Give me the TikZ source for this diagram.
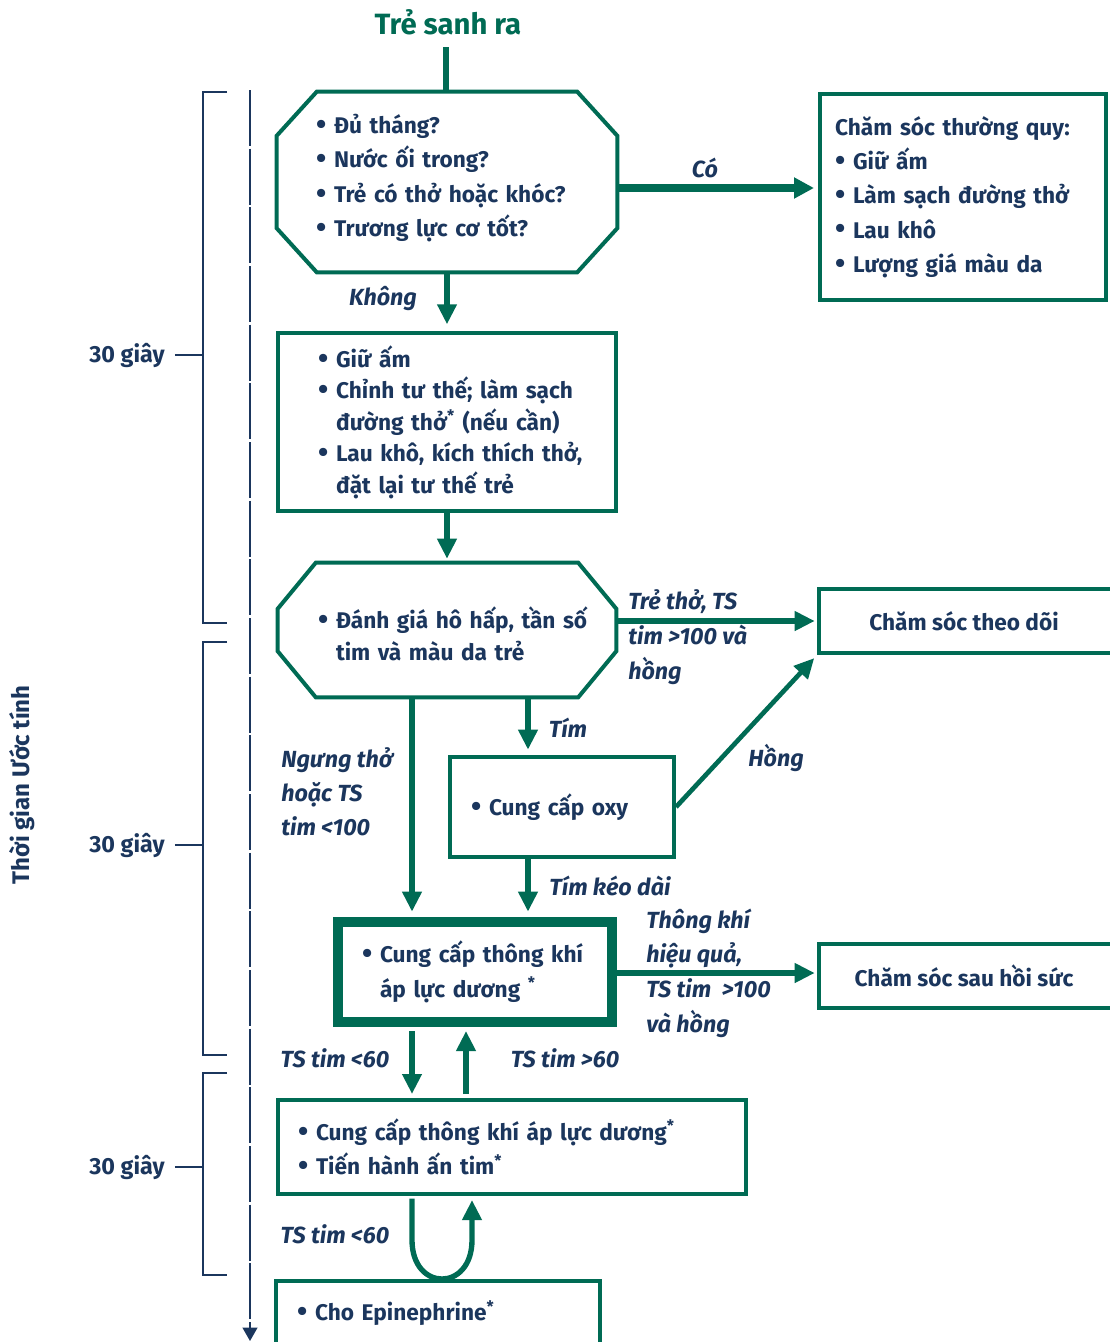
\documentclass[tikz,border=0pt]{standalone}
\usepackage{fontspec}
\setmainfont{Fira Sans}
\usetikzlibrary{arrows.meta,calc}
\definecolor{grn}{HTML}{006B54}
\definecolor{nav}{HTML}{1B365D}
\newlength\pxl
\setlength\pxl{0.75pt}
\newcommand\bul{\makebox[18\pxl][l]{\raisebox{-0.04em}{\scalebox{1.3}{•}}}}
\newcommand\ind{\hspace*{18\pxl}}
\newcommand\astk{\textsuperscript{*}}
\begin{document}
\begin{tikzpicture}[x=0.75pt,y=-0.75pt,
  txt/.style={font=\fontsize{17pt}{25.75pt}\selectfont\bfseries, text=nav},
  lbl/.style={font=\fontsize{17.5pt}{26pt}\selectfont\bfseries\itshape, text=nav, align=left, inner sep=0},
  bx/.style n args={3}{txt, inner sep=0, align=left, minimum width=#1\pxl, minimum height=#2\pxl, text width=#3\pxl},
  frame/.style 2 args={inner sep=0, minimum width=#1\pxl, minimum height=#2\pxl},
  gline/.style={draw=grn, line width=3pt},
  arr/.style={draw=grn, line width=4pt, -{Triangle[length=15pt,width=14pt]}},
  arrb/.style={draw=grn, line width=5.5pt, -{Triangle[length=15pt,width=15pt]}},
  ax/.style={draw=nav, line width=1.5pt},
  sec/.style={font=\fontsize{17.5pt}{20pt}\selectfont\bfseries, text=nav, inner sep=0}
]
\useasboundingbox (0,0) rectangle (1110,1342);

% title
\node[font=\fontsize{22pt}{26pt}\selectfont\bfseries, text=grn, inner sep=0] (title) at (448,22) {Trẻ sanh ra};

% octagon 1
\node[frame={340}{180}] (o1) at (447,182) {};
\draw[gline] ($(o1.north west)+(40,0)$) -- ($(o1.north east)+(-40,0)$) -- ($(o1.north east)+(0,44)$) -- ($(o1.south east)+(0,-44)$) -- ($(o1.south east)+(-40,0)$) -- ($(o1.south west)+(40,0)$) -- ($(o1.south west)+(0,-44)$) -- ($(o1.north west)+(0,44)$) -- cycle;
\node[bx={262}{10}{262}] (o1t) at (447,178) {\bul Đủ tháng?\\\bul Nước ối trong?\\\bul Trẻ có thở hoặc khóc?\\\bul Trương lực cơ tốt?};

% routine care
\node[bx={286}{206}{256}, gline] (b1) at (963,197) {Chăm sóc thường quy:\\\bul Giữ ấm\\\bul Làm sạch đường thở\\\bul Lau khô\\\bul Lượng giá màu da};

% box 2
\node[bx={338}{178}{258}, gline, font=\fontsize{17pt}{23.6pt}\selectfont\bfseries] (b2) at (447,422) {\bul Giữ ấm\\\mbox{\bul Chỉnh tư thế; làm sạch}\\\mbox{\ind đường thở\astk{} (nếu cần)}\\\mbox{\bul Lau khô, kích thích thở,}\\\mbox{\ind đặt lại tư thế trẻ}};

% octagon 2
\node[frame={338}{134}] (o2) at (447,630) {};
\draw[gline] ($(o2.north west)+(38,0)$) -- ($(o2.north east)+(-38,0)$) -- ($(o2.north east)+(0,46)$) -- ($(o2.south east)+(0,-46)$) -- ($(o2.south east)+(-38,0)$) -- ($(o2.south west)+(38,0)$) -- ($(o2.south west)+(0,-46)$) -- ($(o2.north west)+(0,46)$) -- cycle;
\node[bx={258}{10}{258}, font=\fontsize{17pt}{24pt}\selectfont\bfseries] (o2t) at (447,634) {\mbox{\bul Đánh giá hô hấp, tần số}\\\ind tim và màu da trẻ};

% observation care
\node[txt, minimum width=290\pxl, minimum height=64\pxl, inner sep=0] (b3) at (964,621) {Chăm sóc theo dõi};
\draw[gline] (b3.north west) rectangle ([xshift=30pt]b3.south east);

% oxygen
\node[bx={224}{100}{182}, gline] (oxy) at (562,807) {\bul Cung cấp oxy};

% PPV
\node[bx={274}{100}{226}, draw=grn, line width=7.5pt] (ppv) at (475,972) {\bul Cung cấp thông khí\\\ind áp lực dương \astk};

% post-resuscitation care
\node[txt, minimum width=290\pxl, minimum height=64\pxl, inner sep=0] (b4) at (964,976) {Chăm sóc sau hồi sức};
\draw[gline] (b4.north west) rectangle ([xshift=30pt]b4.south east);

% CPR
\node[bx={468}{94}{428}, gline] (cpr) at (512,1147) {\bul Cung cấp thông khí áp lực dương\astk\\\bul Tiến hành ấn tim\astk};

% Epinephrine
\node[bx={324}{64}{282}] (epi) at (438,1313) {\bul Cho Epinephrine\astk};
\draw[gline] (epi.north west) rectangle ([yshift=-30pt]epi.south east);

% connectors
\path (title.south) ++(-2,12) coordinate (t0);
\draw[draw=grn, line width=5pt] (t0) -- (t0 |- o1.north);
\draw[arrb, shorten >=3pt] ([yshift=-4.5pt]o1.east) -- ([yshift=-4.5pt]o1.east -| b1.west);
\draw[arr, shorten >=5pt] (o1.south) -- (o1.south |- b2.north);
\draw[arr, shorten >=3pt] (o1.south |- b2.south) -- (o1.south |- o2.north);
\draw[arr, shorten >=3pt] ([yshift=6.75pt]o2.east) -- ([yshift=6.75pt]o2.east -| b3.west);
\draw[arr, shorten >=4pt] ([xshift=60.75pt]o2.south) -- ([xshift=60.75pt]o2.south |- oxy.north);
\draw[arr, line width=3.5pt, shorten >=5pt] (oxy.east) -- (b3.south west);
\draw[arr, shorten >=4pt] ([xshift=-26.25pt]o2.south) -- ([xshift=-26.25pt]o2.south |- ppv.north);
\draw[arr, shorten >=4pt] ([xshift=60.75pt]o2.south |- oxy.south) -- ([xshift=60.75pt]o2.south |- ppv.north);
\draw[arr, shorten >=3pt] ([yshift=-0.75pt]ppv.east) -- ([yshift=-0.75pt]ppv.east -| b4.west);
\draw[arr, shorten <=3pt, shorten >=3pt] ([xshift=-26.25pt]o2.south |- ppv.south) -- ([xshift=-26.25pt]o2.south |- cpr.north);
\draw[arr, shorten <=3pt, shorten >=3pt] (466,0 |- cpr.north) -- (466,0 |- ppv.south);
\coordinate (lpL) at (412,1240);
\coordinate (lpR) at (472,1240);
\draw[arr, shorten <=2pt, shorten >=3pt] (lpL |- cpr.south) -- (lpL) .. controls (412,1292) and (472,1292) .. (lpR) -- (lpR |- cpr.south);

% connector labels
\node[lbl] (lco) at (705,168) {Có};
\node[lbl] (lkh) at (383,299) {Không};
\node[lbl, anchor=west] (ltt) at (628,637) {Trẻ thở, TS\\tim >100 và\\hồng};
\node[lbl] (ltim) at (568,728) {Tím};
\node[lbl] (lhong) at (776,758) {Hồng};
\node[lbl, anchor=west, font=\fontsize{17.5pt}{25.5pt}\selectfont\bfseries\itshape] (lng) at (281,792) {Ngưng thở\\hoặc TS\\tim <100};
\node[lbl] (lkd) at (610,886) {Tím kéo dài};
\node[lbl, anchor=west] (ltk) at (646,973) {Thông khí\\hiệu quả,\\TS tim\ \ >100\\và hồng};
\node[lbl] (l60a) at (335,1058) {TS tim <60};
\node[lbl] (l60b) at (565,1058) {TS tim >60};
\node[lbl] (l60c) at (335,1234) {TS tim <60};

% time axis
\coordinate (axt) at (250,90);
\coordinate (axb) at (250,1341);
\draw[ax, dash pattern=on 42pt off 2pt, -{Triangle[length=10pt,width=11pt]}] (axt) -- (axb);
\draw[ax] (227,92) -- (203,92) -- (203,623) -- (227,623);
\draw[ax] (227,642) -- (203,642) -- (203,1055) -- (227,1055);
\draw[ax] (227,1073) -- (203,1073) -- (203,1275) -- (227,1275);
\node[sec] (s1) at (127,355) {30 giây};
\node[sec] (s2) at (127,845) {30 giây};
\node[sec] (s3) at (127,1167) {30 giây};
\draw[ax] (s1.east) ++(10,0) -- (203,0 |- s1.east);
\draw[ax] (s2.east) ++(10,0) -- (203,0 |- s2.east);
\draw[ax] (s3.east) ++(10,0) -- (203,0 |- s3.east);
\node[font=\fontsize{18pt}{20pt}\selectfont\bfseries, text=nav, inner sep=0, rotate=90] (axl) at (22,785) {Thời gian Ước tính};
\end{tikzpicture}
\end{document}
